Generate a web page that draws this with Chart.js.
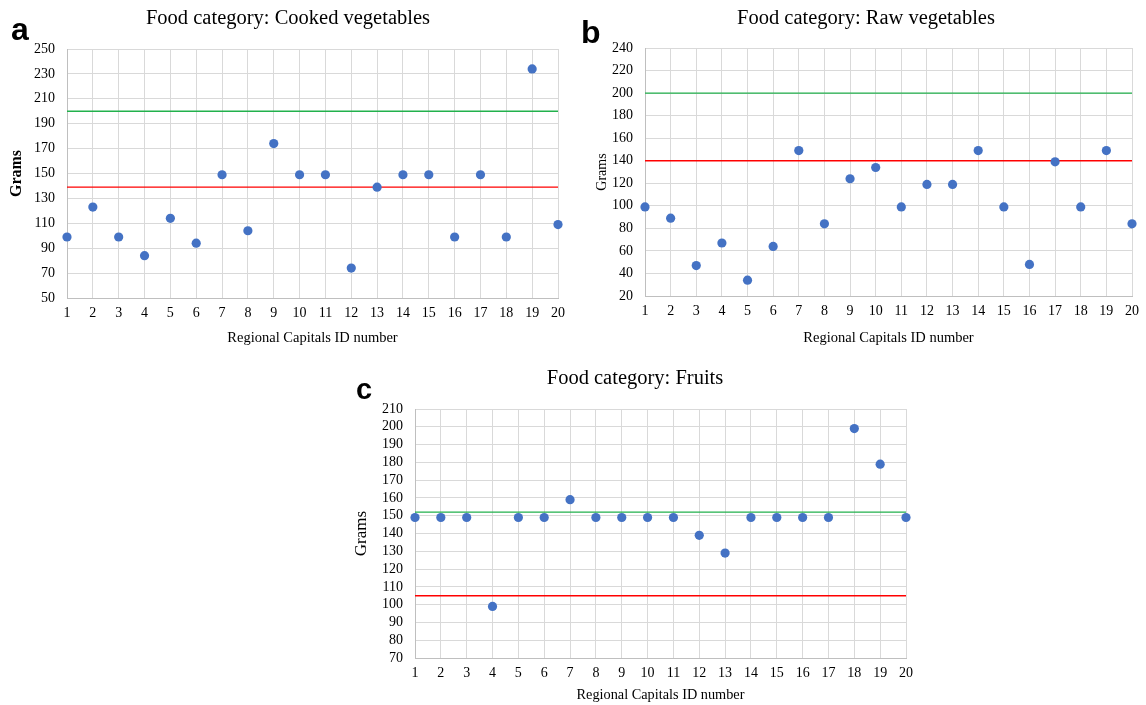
<!DOCTYPE html>
<html>
<head>
<meta charset="utf-8">
<script src="https://cdn.jsdelivr.net/npm/chart.js@4.4.0/dist/chart.umd.min.js"></script>
<style>
  html, body { margin: 0; padding: 0; background: #fff; }
  body { width: 1146px; height: 705px; position: relative; overflow: hidden; }
  canvas { position: absolute; }
  .tag { position: absolute; z-index: 2; color: #000; line-height: 1;
         font-family: 'Liberation Sans', Arial, sans-serif; font-weight: bold; }
</style>
</head>
<body>
<div class="tag" style="left:11px;top:13px;font-size:32px">a</div>
<div class="tag" style="left:581px;top:16px;font-size:32px">b</div>
<div class="tag" style="left:356px;top:375px;font-size:29px">c</div>

<canvas id="cooked" style="left:0;top:0" width="576" height="350"></canvas>
<canvas id="raw" style="left:586px;top:0" width="560" height="350"></canvas>
<canvas id="fruits" style="left:345px;top:360px" width="580" height="345"></canvas>

<script>
// regional capitals, x axis
const ids = [1, 2, 3, 4, 5, 6, 7, 8, 9, 10, 11, 12, 13, 14, 15, 16, 17, 18, 19, 20];

// grams per capital
const cookedVeg = [99, 123, 99, 84, 114, 94, 149, 104, 174, 149, 149, 74, 139, 149, 149, 99, 149, 99, 234, 109];
const rawVeg = [99, 89, 47, 67, 34, 64, 149, 84, 124, 134, 99, 119, 119, 149, 99, 48, 139, 99, 149, 84];
const fruits = [149, 149, 149, 99, 149, 149, 159, 149, 149, 149, 149, 139, 129, 149, 149, 149, 149, 199, 179, 149];

// reference lines (cooked, raw, fruits)
const greenRef = [200, 200, 152];
const redRef = [139, 140, 105];

// y axis [min, max, step]
const cookedTicks = [50, 250, 20];
const rawTicks = [20, 240, 20];
const fruitTicks = [70, 210, 10];

const SERIF = "'Liberation Serif', 'Times New Roman', serif";

function hline(y, color) {
  return {
    type: 'line',
    data: [{ x: ids[0], y: y }, { x: ids[ids.length - 1], y: y }],
    borderColor: color,
    borderWidth: 1.3,
    pointRadius: 0,
    fill: false,
    order: 1
  };
}

function makePanel(id, o) {
  return new Chart(document.getElementById(id), {
    type: 'scatter',
    data: {
      datasets: [
        {
          data: ids.map((x, i) => ({ x: x, y: o.values[i] })),
          backgroundColor: '#4472C4',
          borderWidth: 0,
          pointRadius: 4.6,
          pointHoverRadius: 4.6,
          clip: false,
          order: 0
        },
        hline(o.green, '#22b14c'),
        hline(o.red, '#ff0000')
      ]
    },
    options: {
      responsive: false,
      animation: false,
      devicePixelRatio: 1,
      layout: { padding: { left: o.padLeft, right: o.padRight, top: 0, bottom: 0 } },
      plugins: {
        legend: { display: false },
        tooltip: { enabled: false },
        title: {
          display: true,
          text: o.title,
          color: '#000',
          font: { family: SERIF, size: 20.5, weight: 'normal', lineHeight: 1.2 },
          padding: { top: 6, bottom: o.titleGap }
        }
      },
      scales: {
        x: {
          type: 'linear',
          min: ids[0],
          max: ids[ids.length - 1],
          ticks: { stepSize: 1, autoSkip: false, maxRotation: 0, color: '#000',
                   font: { family: SERIF, size: 14 }, padding: 7 },
          grid: { color: '#d9d9d9', drawTicks: false },
          border: { color: '#bfbfbf' },
          title: { display: true, text: 'Regional Capitals ID number', color: '#000',
                   font: { family: SERIF, size: o.xTitleSize }, padding: { top: 0, bottom: o.xTitlePad } },
          afterFit: s => { s.height = o.xHeight; }
        },
        y: {
          min: o.ticks[0],
          max: o.ticks[1],
          ticks: { stepSize: o.ticks[2], autoSkip: false, color: '#000',
                   font: { family: SERIF, size: 14 }, padding: 12 },
          grid: { color: '#d9d9d9', drawTicks: false },
          border: { color: '#bfbfbf' },
          title: { display: true, text: 'Grams', color: '#000',
                   font: { family: SERIF, size: o.yTitleSize, weight: o.yTitleWeight },
                   padding: { top: o.yTitlePad, bottom: 0 } },
          afterFit: s => { s.width = o.yWidth; }
        }
      }
    }
  });
}

makePanel('cooked', {
  title: 'Food category: Cooked vegetables',
  values: cookedVeg, green: greenRef[0], red: redRef[0], ticks: cookedTicks,
  padLeft: 18, padRight: 18, yWidth: 49, xHeight: 52, titleGap: 18.4,
  yTitleSize: 16, yTitleWeight: 'bold', yTitlePad: -10.6,
  xTitleSize: 14.5, xTitlePad: 3
});

makePanel('raw', {
  title: 'Food category: Raw vegetables',
  values: rawVeg, green: greenRef[1], red: redRef[1], ticks: rawTicks,
  padLeft: 10, padRight: 10, yWidth: 49, xHeight: 54, titleGap: 17.4,
  yTitleSize: 14, yTitleWeight: 'normal', yTitlePad: -2.4,
  xTitleSize: 14.5, xTitlePad: 3
});

makePanel('fruits', {
  title: 'Food category: Fruits',
  values: fruits, green: greenRef[2], red: redRef[2], ticks: fruitTicks,
  padLeft: 19, padRight: 19, yWidth: 51, xHeight: 47, titleGap: 18.4,
  yTitleSize: 17, yTitleWeight: 'normal', yTitlePad: -12.2,
  xTitleSize: 14.3, xTitlePad: 1.4
});
</script>
</body>
</html>
